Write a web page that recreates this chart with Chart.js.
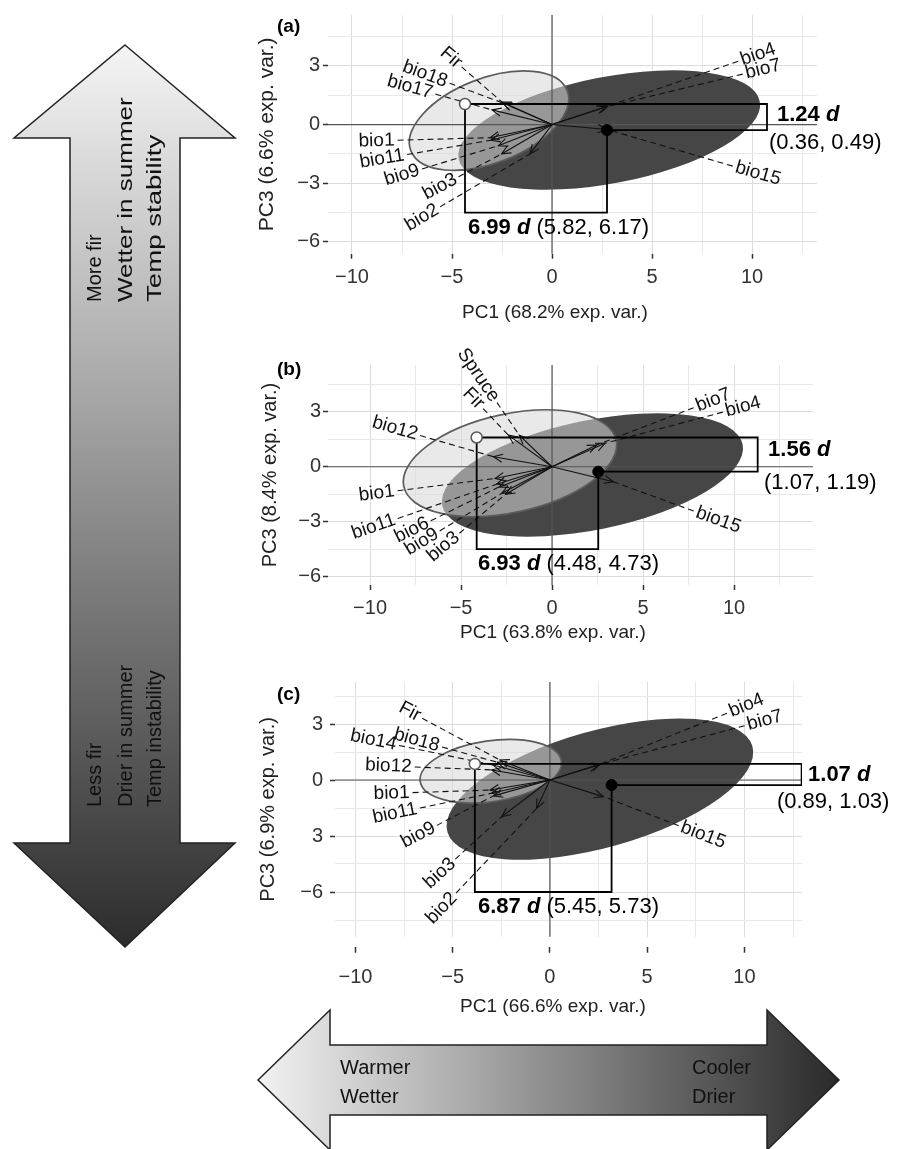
<!DOCTYPE html>
<html>
<head>
<meta charset="utf-8">
<title>PCA biplots</title>
<script src="https://cdn.jsdelivr.net/npm/chart.js@4.4.1/dist/chart.umd.min.js"></script>
<style>
  html, body { margin: 0; padding: 0; background: #fff; }
  #page { position: relative; width: 916px; height: 1149px; overflow: hidden; }
  #page canvas { position: absolute; }
</style>
</head>
<body>
<div id="page">
  <canvas id="arrows" width="916" height="1149" style="left:0;top:0"></canvas>
  <canvas id="chartA" width="676" height="330" style="left:240px;top:0px"></canvas>
  <canvas id="chartB" width="676" height="330" style="left:240px;top:320px"></canvas>
  <canvas id="chartC" width="676" height="365" style="left:240px;top:655px"></canvas>
</div>
<script>
const FONT = '"Liberation Sans", Arial, Helvetica, sans-serif';

// ---- shared axis ticks
const xGrid = [-12.5, -10, -7.5, -5, -2.5, 0, 2.5, 5, 7.5, 10, 12.5];
const xTickVals = [-10, -5, 0, 5, 10];
const xTickText = ['\u221210', '\u22125', '0', '5', '10'];
const yGrid = [-7.5, -6, -4.5, -3, -1.5, 0, 1.5, 3, 4.5];
const yTickVals = [3, 0, -3, -6];
const yTickTextAB = ['3', '0', '\u22123', '\u22126'];
const yTickTextC = ['3', '0', '3', '\u22126'];

// ---- panel (a)
const namesA = ['Fir', 'bio18', 'bio17', 'bio1', 'bio11', 'bio9', 'bio3', 'bio2', 'bio4', 'bio7', 'bio15'];
const tipXA = [-2.5, -2.45, -3.0, -3.1, -3.05, -2.68, -2.52, -1.1, 2.8, 2.7, 2.75];
const tipYA = [1.15, 1.1, 0.75, -0.67, -0.8, -1.08, -1.5, -1.5, 0.95, 0.9, -0.25];
const labXA = [-5.05, -6.35, -7.1, -8.77, -8.5, -7.5, -5.6, -6.5, 10.3, 10.55, 10.3];
const labYA = [3.42, 2.58, 1.92, -0.83, -1.75, -2.58, -3.17, -4.75, 3.58, 2.83, -2.5];
const lightA = [-3.15, 0.2, 4.2, 2.16, 21.8];   // cx, cy, semi-major, semi-minor, angle
const darkA = [2.86, -0.28, 7.67, 2.72, 11.1];
const openA = [-4.35, 1.05];
const filledA = [2.75, -0.28];
const bracketA = [-4.5, 10.75];                 // y of lower bracket, x of right bracket
const distA = ['6.99', '(5.82, 6.17)'];
const diffA = ['1.24', '(0.36, 0.49)'];

// ---- panel (b)
const namesB = ['Spruce', 'Fir', 'bio12', 'bio1', 'bio11', 'bio6', 'bio9', 'bio3', 'bio7', 'bio4', 'bio15'];
const tipXB = [-1.8, -2.4, -3.22, -3.13, -3.04, -2.9, -2.76, -2.55, 2.45, 2.91, 3.37];
const tipYB = [1.73, 1.73, 0.55, -0.64, -0.95, -1.1, -1.45, -1.5, 1.19, 1.28, -0.82];
const labXB = [-4.05, -4.32, -8.63, -9.63, -9.8, -7.7, -7.16, -5.97, 8.86, 10.5, 9.14];
const labYB = [5.0, 3.74, 2.1, -1.45, -3.28, -3.46, -4.1, -4.37, 3.64, 3.28, -2.91];
const lightB = [-2.31, 0.19, 5.97, 2.69, 12.2];
const darkB = [2.22, -0.45, 8.42, 2.99, 11.4];
const openB = [-4.14, 1.6];
const filledB = [2.54, -0.27];
const bracketB = [-4.5, 11.3];
const distB = ['6.93', '(4.48, 4.73)'];
const diffB = ['1.56', '(1.07, 1.19)'];

// ---- panel (c)
const namesC = ['Fir', 'bio18', 'bio14', 'bio12', 'bio1', 'bio11', 'bio9', 'bio3', 'bio2', 'bio4', 'bio7', 'bio15'];
const tipXC = [-2.57, -2.7, -2.92, -3.0, -3.08, -3.0, -2.9, -2.48, -0.68, 2.48, 2.6, 2.74];
const tipYC = [1.07, 0.95, 0.8, 0.54, -0.54, -0.71, -0.85, -1.97, -1.52, 0.8, 0.85, -0.89];
const labXC = [-7.2, -6.85, -9.08, -8.3, -8.14, -7.97, -6.77, -5.66, -5.57, 10.1, 11.05, 7.88];
const labYC = [3.66, 2.14, 2.14, 0.75, -0.71, -1.78, -2.95, -5.0, -6.87, 4.0, 3.2, -2.95];
const lightC = [-3.04, 0.47, 3.67, 1.63, 8.8];
const darkC = [2.57, -0.49, 8.17, 3.12, 16.5];
const openC = [-3.86, 0.86];
const filledC = [3.17, -0.27];
const bracketC = [-6.0, 12.94];
const distC = ['6.87', '(5.45, 5.73)'];
const diffC = ['1.07', '(0.89, 1.03)'];

// ---- background arrows
const upText = ['More fir', 'Wetter in summer', 'Temp stability'];
const downText = ['Less fir', 'Drier in summer', 'Temp instability'];
const leftText = ['Warmer', 'Wetter'];
const rightText = ['Cooler', 'Drier'];

function line(ctx, x1, y1, x2, y2) {
  ctx.beginPath(); ctx.moveTo(x1, y1); ctx.lineTo(x2, y2); ctx.stroke();
}

function richText(ctx, x, y, parts) {
  ctx.textAlign = 'left';
  ctx.textBaseline = 'middle';
  parts.forEach(p => {
    ctx.font = p[1] + ' 22px ' + FONT;
    ctx.fillText(p[0], x, y);
    x += ctx.measureText(p[0]).width;
  });
}

const biplot = {
  id: 'biplot',
  beforeDatasetsDraw(chart, args, o) {
    const ctx = chart.ctx, xs = chart.scales.x, ys = chart.scales.y, ca = chart.chartArea;
    const sx = xs.getPixelForValue(1) - xs.getPixelForValue(0);
    const sy = ys.getPixelForValue(0) - ys.getPixelForValue(1);
    ctx.save();
    [[o.dark, '#464646', null], [o.light, 'rgba(216,216,216,0.56)', '#5c5c5c']].forEach(([e, fill, stroke]) => {
      ctx.save();
      ctx.beginPath();
      ctx.translate(xs.getPixelForValue(e[0]), ys.getPixelForValue(e[1]));
      ctx.scale(sx, -sy);
      ctx.rotate(e[4] * Math.PI / 180);
      ctx.ellipse(0, 0, e[2], e[3], 0, 0, Math.PI * 2);
      ctx.restore();
      ctx.fillStyle = fill;
      ctx.fill();
      if (stroke) { ctx.strokeStyle = stroke; ctx.lineWidth = 1.7; ctx.stroke(); }
    });

    // zero lines
    const x0 = xs.getPixelForValue(0), y0 = ys.getPixelForValue(0);
    ctx.strokeStyle = '#555';
    ctx.lineWidth = 1.2;
    line(ctx, ca.left, y0, ca.right, y0);
    line(ctx, x0, ca.top, x0, ca.bottom);

    // loadings: dashed leaders and arrows
    ctx.font = '19px ' + FONT;
    ctx.strokeStyle = '#111';
    ctx.lineWidth = 1.1;
    o.names.forEach((n, i) => {
      const tx = xs.getPixelForValue(o.tipX[i]), ty = ys.getPixelForValue(o.tipY[i]);
      const lx = xs.getPixelForValue(o.labX[i]), ly = ys.getPixelForValue(o.labY[i]);
      const w = ctx.measureText(n).width;
      let dx = tx - lx, dy = ty - ly;
      const len = Math.hypot(dx, dy);
      dx /= len; dy /= len;
      const off = w / 2 + 3;
      if (len > off) {
        ctx.setLineDash([6, 4]);
        line(ctx, lx + dx * off, ly + dy * off, tx, ty);
      }
      ctx.setLineDash([]);
      line(ctx, x0, y0, tx, ty);
      const a = Math.atan2(ty - y0, tx - x0), h = 10, s = 0.42;
      ctx.beginPath();
      ctx.moveTo(tx - h * Math.cos(a - s), ty - h * Math.sin(a - s));
      ctx.lineTo(tx, ty);
      ctx.lineTo(tx - h * Math.cos(a + s), ty - h * Math.sin(a + s));
      ctx.stroke();
    });
    ctx.restore();
  },
  afterDatasetsDraw(chart, args, o) {
    const ctx = chart.ctx, xs = chart.scales.x, ys = chart.scales.y;
    ctx.save();
    ctx.fillStyle = '#111';
    ctx.font = '19px ' + FONT;
    ctx.textAlign = 'center';
    ctx.textBaseline = 'middle';
    o.names.forEach((n, i) => {
      const tx = xs.getPixelForValue(o.tipX[i]), ty = ys.getPixelForValue(o.tipY[i]);
      const lx = xs.getPixelForValue(o.labX[i]), ly = ys.getPixelForValue(o.labY[i]);
      let a = Math.atan2(ly - ty, lx - tx);
      if (a > Math.PI / 2) a -= Math.PI;
      if (a < -Math.PI / 2) a += Math.PI;
      ctx.save();
      ctx.translate(lx, ly);
      ctx.rotate(a);
      ctx.fillText(n, 0, 0);
      ctx.restore();
    });

    ctx.fillStyle = '#000';
    const d = o.dist, f = o.diff, p = o.textPos;
    richText(ctx, xs.getPixelForValue(p[0][0]), ys.getPixelForValue(p[0][1]),
      [[d[0] + ' ', 'bold'], ['d', 'italic bold'], [' ' + d[1], '']]);
    richText(ctx, xs.getPixelForValue(p[1][0]), ys.getPixelForValue(p[1][1]),
      [[f[0] + ' ', 'bold'], ['d', 'italic bold'], ['', '']]);
    richText(ctx, xs.getPixelForValue(p[2][0]), ys.getPixelForValue(p[2][1]), [[f[1], '']]);

    // panel tag and x title
    ctx.font = 'bold 19px ' + FONT;
    ctx.textAlign = 'left';
    ctx.fillText(o.tag, o.tagPos[0], o.tagPos[1]);
    ctx.font = '19px ' + FONT;
    ctx.fillStyle = '#222';
    ctx.textAlign = 'center';
    ctx.fillText(o.xTitle, o.xTitlePos[0], o.xTitlePos[1]);
    ctx.restore();
  }
};

function makePanel(id, p) {
  const gridX = xGrid.filter(v => v >= p.xr[0] && v <= p.xr[1]);
  const gridY = yGrid.filter(v => v >= p.yr[0] && v <= p.yr[1]);
  const pt = a => ({ x: a[0], y: a[1] });
  new Chart(document.getElementById(id), {
    type: 'scatter',
    data: {
      datasets: [
        { data: [pt(p.open)], pointRadius: 5.5, pointBackgroundColor: '#fff', pointBorderColor: '#555', pointBorderWidth: 1.5 },
        { data: [pt(p.filled)], pointRadius: 5.5, pointBackgroundColor: '#000', pointBorderColor: '#000', pointBorderWidth: 1 },
        { data: [pt(p.open), { x: p.open[0], y: p.bracket[0] }, { x: p.filled[0], y: p.bracket[0] }, pt(p.filled)],
          showLine: true, borderColor: '#000', borderWidth: 1.8, pointRadius: 0, tension: 0 },
        { data: [pt(p.open), { x: p.bracket[1], y: p.open[1] }, { x: p.bracket[1], y: p.filled[1] }, pt(p.filled)],
          showLine: true, borderColor: '#000', borderWidth: 1.8, pointRadius: 0, tension: 0 }
      ]
    },
    options: {
      responsive: false,
      animation: false,
      events: [],
      layout: { padding: p.pad },
      plugins: {
        legend: { display: false },
        tooltip: { enabled: false },
        biplot: {
          names: p.names, tipX: p.tipX, tipY: p.tipY, labX: p.labX, labY: p.labY,
          light: p.light, dark: p.dark, dist: p.dist, diff: p.diff, textPos: p.textPos,
          tag: p.tag, tagPos: p.tagPos, xTitle: p.xTitle, xTitlePos: p.xTitlePos
        }
      },
      scales: {
        x: {
          type: 'linear', min: p.xr[0], max: p.xr[1],
          afterBuildTicks: s => { s.ticks = gridX.map(v => ({ value: v })); },
          afterFit: s => { s.height = p.xH; },
          ticks: {
            autoSkip: false, maxRotation: 0, padding: p.xPad, color: '#333',
            font: { family: FONT, size: 20 },
            callback: v => { const i = xTickVals.indexOf(v); return i < 0 ? '' : xTickText[i]; }
          },
          grid: {
            color: c => xTickVals.includes(c.tick.value) ? '#dcdcdc' : '#e8e8e8',
            lineWidth: 1, tickLength: p.tickLen, tickWidth: 1.5, tickBorderDash: p.tickDash,
            tickColor: c => xTickVals.includes(c.tick.value) ? '#333' : 'rgba(0,0,0,0)'
          },
          border: { display: false }
        },
        y: {
          type: 'linear', min: p.yr[0], max: p.yr[1],
          afterBuildTicks: s => { s.ticks = gridY.map(v => ({ value: v })); },
          afterFit: s => { s.width = p.yW; },
          ticks: {
            autoSkip: false, padding: p.yPad, color: '#333',
            font: { family: FONT, size: 20 },
            callback: v => { const i = yTickVals.indexOf(v); return i < 0 ? '' : p.yText[i]; }
          },
          grid: {
            color: c => yTickVals.includes(c.tick.value) ? '#dcdcdc' : '#e8e8e8',
            lineWidth: 1, tickLength: 5, tickWidth: 1.5,
            tickColor: c => yTickVals.includes(c.tick.value) ? '#333' : 'rgba(0,0,0,0)'
          },
          border: { display: false },
          title: {
            display: true, text: p.yTitle, color: '#222',
            font: { family: FONT, size: p.yTitleSize }, padding: { top: p.yTitlePad, bottom: 0 }
          }
        }
      }
    },
    plugins: [biplot]
  });
}

makePanel('chartA', {
  names: namesA, tipX: tipXA, tipY: tipYA, labX: labXA, labY: labYA, light: lightA, dark: darkA,
  open: openA, filled: filledA, bracket: bracketA, dist: distA, diff: diffA,
  textPos: [[-4.2, -5.3], [11.25, 0.49], [10.85, -0.92]],
  xr: [-11.2, 13.25], yr: [-6.6, 5.6], pad: { left: 0, top: 9.7, right: 99, bottom: 0 },
  yW: 88, xH: 76.3, xPad: 7, yPad: 3, yText: yTickTextAB, yTitlePad: 15, yTitleSize: 21,
  tickLen: 5, tickDash: [],
  yTitle: 'PC3 (6.6% exp. var.)', xTitle: 'PC1 (68.2% exp. var.)', xTitlePos: [315, 313],
  tag: '(a)', tagPos: [37, 27]
});
makePanel('chartB', {
  names: namesB, tipX: tipXB, tipY: tipYB, labX: labXB, labY: labYB, light: lightB, dark: darkB,
  open: openB, filled: filledB, bracket: bracketB, dist: distB, diff: diffB,
  textPos: [[-4.07, -5.32], [11.87, 0.9], [11.65, -0.9]],
  xr: [-12.31, 14.34], yr: [-6.46, 5.56], pad: { left: 0, top: 45, right: 103, bottom: 0 },
  yW: 88, xH: 65, xPad: 6, yPad: 2, yText: yTickTextAB, yTitlePad: 18, yTitleSize: 20,
  tickLen: 5, tickDash: [],
  yTitle: 'PC3 (8.4% exp. var.)', xTitle: 'PC1 (63.8% exp. var.)', xTitlePos: [313, 313],
  tag: '(b)', tagPos: [37, 50]
});
makePanel('chartC', {
  names: namesC, tipX: tipXC, tipY: tipYC, labX: labXC, labY: labYC, light: lightC, dark: darkC,
  open: openC, filled: filledC, bracket: bracketC, dist: distC, diff: diffC,
  textPos: [[-3.7, -6.8], [13.27, 0.27], [11.67, -1.16]],
  xr: [-11.05, 12.96], yr: [-8.4, 5.25], pad: { left: 0, top: 27, right: 114, bottom: 0 },
  yW: 95, xH: 83.2, xPad: 13, yPad: 7, yText: yTickTextC, yTitlePad: 16, yTitleSize: 20,
  tickLen: 16, tickDash: [0, 10, 6, 40],
  yTitle: 'PC3 (6.9% exp. var.)', xTitle: 'PC1 (66.6% exp. var.)', xTitlePos: [313, 352],
  tag: '(c)', tagPos: [37, 40]
});

// ---- big direction arrows
(() => {
  const ctx = document.getElementById('arrows').getContext('2d');
  // vertical arrow
  let g = ctx.createLinearGradient(0, 45, 0, 947);
  g.addColorStop(0, '#f4f4f4');
  g.addColorStop(1, '#2c2c2c');
  ctx.beginPath();
  [[125, 45], [235, 138], [180, 138], [180, 843], [235, 843], [125, 947],
   [14, 843], [70, 843], [70, 138], [14, 138]].forEach((q, i) => i ? ctx.lineTo(q[0], q[1]) : ctx.moveTo(q[0], q[1]));
  ctx.closePath();
  ctx.fillStyle = g;
  ctx.fill();
  ctx.strokeStyle = '#222';
  ctx.lineWidth = 1.5;
  ctx.stroke();

  ctx.fillStyle = '#111';
  ctx.font = '20px ' + FONT;
  ctx.textAlign = 'left';
  ctx.textBaseline = 'middle';
  const cols = [95, 126, 155];
  const upStretch = [1, 1.3, 1.38];
  upText.forEach((t, i) => {
    ctx.save(); ctx.translate(cols[i], 302); ctx.rotate(-Math.PI / 2); ctx.scale(upStretch[i], 1);
    ctx.fillText(t, 0, 0); ctx.restore();
  });
  downText.forEach((t, i) => {
    ctx.save(); ctx.translate(cols[i], 807); ctx.rotate(-Math.PI / 2); ctx.fillText(t, 0, 0); ctx.restore();
  });

  // horizontal arrow
  g = ctx.createLinearGradient(258, 0, 839, 0);
  g.addColorStop(0, '#f2f2f2');
  g.addColorStop(1, '#2a2a2a');
  ctx.beginPath();
  [[258, 1080], [330, 1010], [330, 1045], [767, 1045], [767, 1010], [839, 1080],
   [767, 1150], [767, 1115], [330, 1115], [330, 1150]].forEach((q, i) => i ? ctx.lineTo(q[0], q[1]) : ctx.moveTo(q[0], q[1]));
  ctx.closePath();
  ctx.fillStyle = g;
  ctx.fill();
  ctx.stroke();

  ctx.fillStyle = '#111';
  leftText.forEach((t, i) => ctx.fillText(t, 340, 1068 + i * 29));
  rightText.forEach((t, i) => ctx.fillText(t, 692, 1068 + i * 29));
})();
</script>
</body>
</html>
